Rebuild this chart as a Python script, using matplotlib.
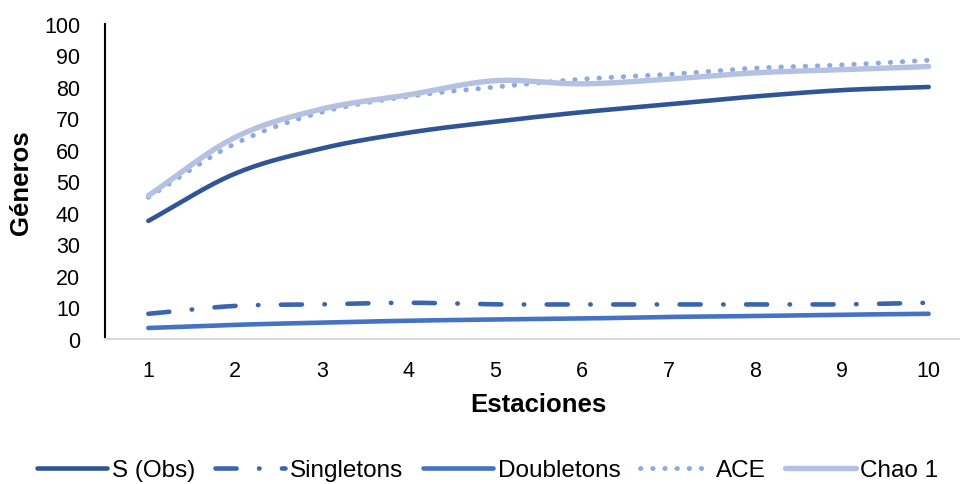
import numpy as np
import matplotlib
matplotlib.use("Agg")
import matplotlib.pyplot as plt

plt.rcParams['font.family'] = ['Liberation Sans', 'DejaVu Sans']

estaciones = [1, 2, 3, 4, 5, 6, 7, 8, 9, 10]
s_obs = [37.5, 52.5, 60.5, 65.5, 69, 72, 74.5, 77, 79, 80]
singletons = [8, 10.5, 11, 11.5, 11, 11, 11, 11, 11, 11.5]
doubletons = [3.5, 4.5, 5.2, 5.8, 6.2, 6.5, 7, 7.3, 7.7, 8]
ace = [45, 62, 72, 77, 80, 82.5, 84, 86, 87, 88.5]
chao1 = [45.5, 64, 73, 77.5, 82, 81, 82.5, 84.5, 85.5, 86.5]


def smooth(x, y, n=30):
    # Catmull-Rom curve through the points, like Excel's smoothed lines
    x = np.asarray(x, float)
    y = np.asarray(y, float)
    px = np.concatenate([[2 * x[0] - x[1]], x, [2 * x[-1] - x[-2]]])
    py = np.concatenate([[2 * y[0] - y[1]], y, [2 * y[-1] - y[-2]]])
    xs, ys = [], []
    t = np.linspace(0, 1, n)
    for i in range(1, len(px) - 2):
        for p, out in ((px, xs), (py, ys)):
            p0, p1, p2, p3 = p[i - 1], p[i], p[i + 1], p[i + 2]
            out.extend(0.5 * (2 * p1 + (-p0 + p2) * t
                              + (2 * p0 - 5 * p1 + 4 * p2 - p3) * t ** 2
                              + (-p0 + 3 * p1 - 3 * p2 + p3) * t ** 3))
    return xs, ys


fig = plt.figure(figsize=(9.6, 4.85), dpi=100)
ax = fig.add_axes([105 / 960, 1 - 340 / 485, 867 / 960, 315 / 485])

series = [
    ("S (Obs)", s_obs, "#2F5597", "-", 3.3),
    ("Singletons", singletons, "#3A64B0", (0, (4.6, 4.9, 0.1, 4.9)), 3.3),
    ("Doubletons", doubletons, "#4472C4", "-", 3.3),
    ("ACE", ace, "#8FAADC", (0, (0.1, 2.4)), 3.5),
    ("Chao 1", chao1, "#B4C1E3", "-", 3.9),
]
for name, vals, col, ls, lw in series:
    sx, sy = smooth(estaciones, vals)
    ax.plot(sx, sy, color=col, linestyle=ls, lw=lw, label=name,
            solid_capstyle='round', dash_capstyle='round')

ax.set_xlim(0.5, 10.5)
ax.set_ylim(0, 100)
ax.set_xticks(estaciones)
ax.set_yticks(range(0, 101, 10))
ax.tick_params(length=0, labelsize=15.5)
ax.tick_params(axis='y', pad=18)
ax.tick_params(axis='x', pad=15)
for s in ['top', 'right']:
    ax.spines[s].set_visible(False)
ax.spines['left'].set_color('black')
ax.spines['left'].set_linewidth(1.5)
ax.spines['bottom'].set_color('#D9D9D9')
ax.spines['bottom'].set_linewidth(1.5)

ax.set_xlabel("Estaciones", fontsize=18.5, fontweight='bold')
ax.set_ylabel("Géneros", fontsize=18.5, fontweight='bold')
ax.xaxis.set_label_coords((538 - 105) / 867, -53 / 315)
ax.yaxis.set_label_coords(-72 / 867, 0.5)

fig.legend(loc='center', bbox_to_anchor=(0.508, 1 - 471 / 485), ncol=5,
           frameon=False, fontsize=17.5, handlelength=2.9, handletextpad=0.2,
           columnspacing=0.8)

fig.savefig("out.png", dpi=100)
